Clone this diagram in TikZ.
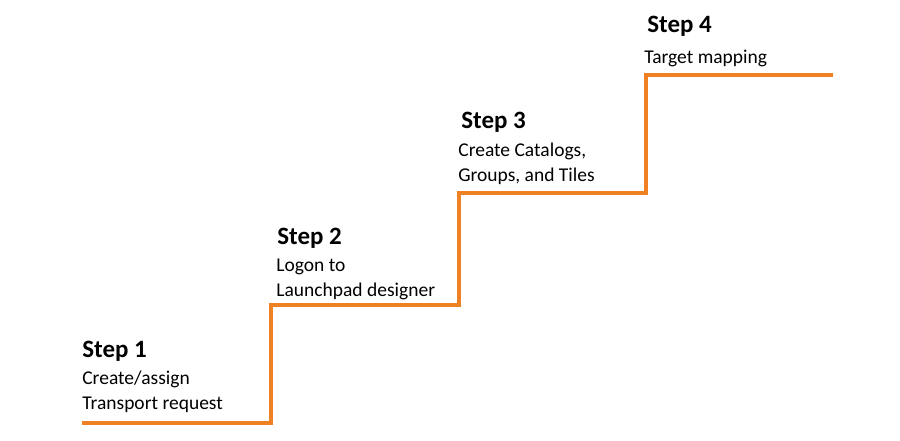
\documentclass[tikz,border=0pt]{standalone}
\usepackage{fontspec}
\setmainfont{Carlito}
\usepackage{tikz}
\usetikzlibrary{positioning}
\definecolor{stairorange}{RGB}{240, 128, 36}
\tikzset{
  stephead/.style={
    anchor=base west, inner sep=0pt,
    font=\fontsize{14.2}{16}\selectfont\bfseries
  },
  stepbody/.style={
    anchor=base west, inner sep=0pt, align=left,
    font=\fontsize{11.1}{13.9}\selectfont
  },
  stair/.style={draw=stairorange, line width=2.3pt}
}

\begin{document}
\begin{tikzpicture}[x=0.02cm, y=-0.02cm]
  \useasboundingbox (0,0) rectangle (900,440);

  % --- corners of the stairs ---
  \coordinate (start) at (82,423);
  \coordinate (riseA) at (271,423);
  \coordinate (riseB) at (459,305);
  \coordinate (riseC) at (646,193);
  \coordinate (finish) at (833,75);

  % --- steps (body nodes sit on their last baseline) ---
  \node[stephead] (head1) at (82,357) {Step 1};
  \node[stepbody] (text1) at (82,409) {Create/assign\\Transport request};

  \node[stephead] (head2) at (277,244) {Step 2};
  \node[stepbody] (text2) at (276,296) {Logon to\\Launchpad designer};

  \node[stephead] (head3) at (461,128) {Step 3};
  \node[stepbody] (text3) at (458,181) {Create Catalogs,\\Groups, and Tiles};

  \node[stephead] (head4) at (647,32) {Step 4};
  \node[stepbody] (text4) at (644,63) {Target mapping};

  % --- the stair line ---
  \draw[stair] (start) -- (riseA) |- (riseB) |- (riseC) |- (finish);

\end{tikzpicture}
\end{document}
